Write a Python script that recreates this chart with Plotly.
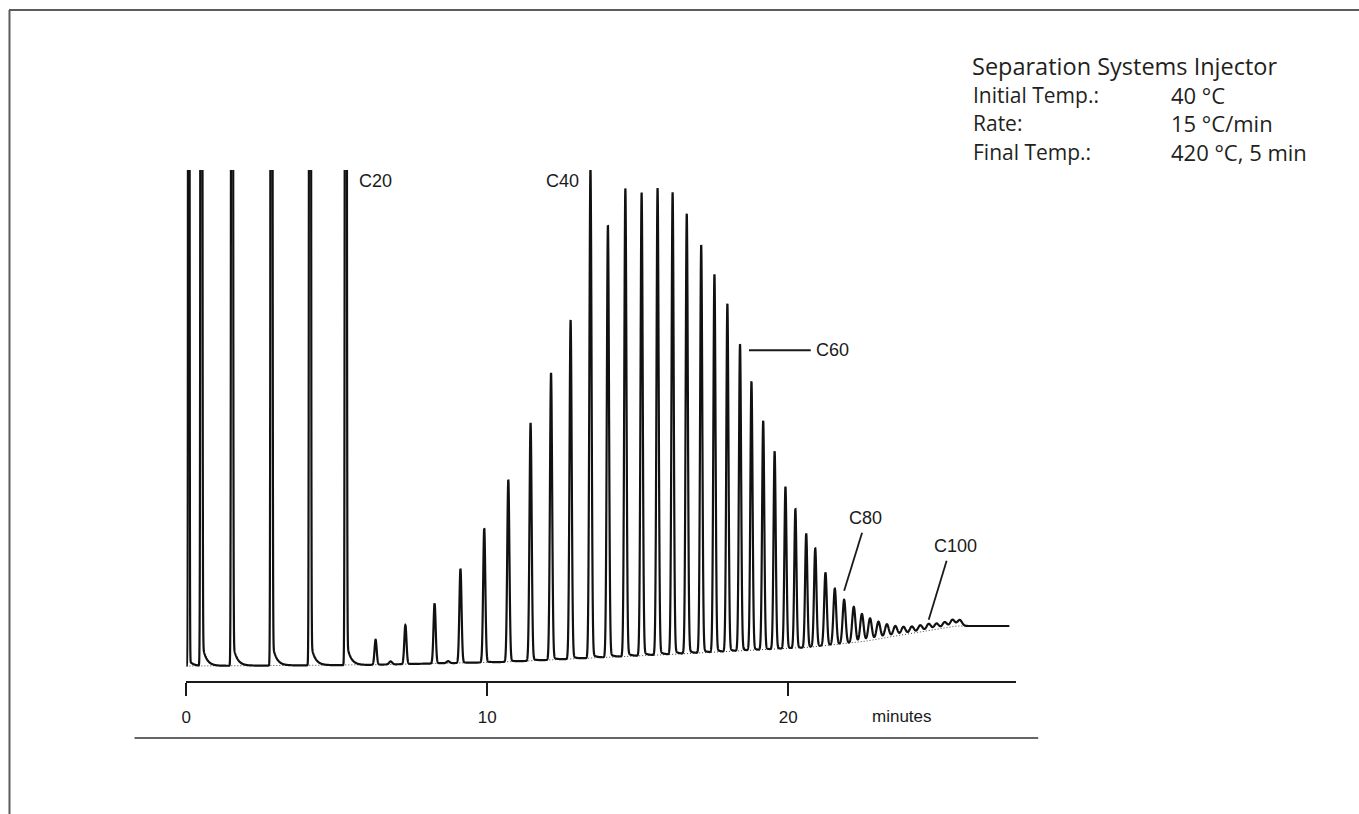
import numpy as np
import plotly.graph_objects as go

# ---------------------------------------------------------------- data ----
# n-alkane homologues of the polyethylene wax standard (even carbon numbers);
# the first entry is the solvent front
carbon_numbers = [None] + list(range(12, 110, 2))

# retention times (min)
retention_min = [
    0.08, 0.50, 1.52, 2.83, 4.11, 5.30,
    6.29, 7.28, 8.25, 9.11, 9.90, 10.70, 11.44, 12.12, 12.77, 13.43,
    14.01, 14.59, 15.13, 15.66, 16.16, 16.63, 17.11, 17.55, 17.98, 18.40,
    18.78, 19.17, 19.55, 19.91, 20.24, 20.60, 20.90, 21.24, 21.55, 21.86,
    22.18, 22.45, 22.72, 23.00, 23.28, 23.56, 23.83, 24.11, 24.39, 24.67,
    24.93, 25.20, 25.46, 25.70,
]

# peak heights above baseline (detector units; the first six run off scale)
peak_height = [
    3000, 3000, 3000, 3000, 3000, 3000,
    25, 39, 60, 94, 134, 182, 238, 287, 339, 490,
    432, 468, 463, 467, 462, 440, 408, 378, 348, 307,
    269, 229, 198, 162, 139, 114, 98, 73, 56, 44,
    36, 28, 22, 17, 13, 10, 8, 7, 7, 7,
    6, 6, 7, 6,
]

# small impurity bumps between the early homologues
minor_retention_min = [6.79, 8.70]
minor_height = [3, 2]

# column-bleed baseline drift during the temperature program
drift_min = [0.0, 5.89, 10.53, 13.84, 17.15, 20.46, 22.45, 23.11, 24.44, 25.60, 27.35]
drift_level = [0, 1, 4, 8.5, 13, 18, 24, 28, 34, 40, 40]

labelled = ["C20", "C40", "C60", "C80", "C100"]

method_title = "Separation Systems Injector"
method_keys = ["Initial Temp.:", "Rate:", "Final Temp.:"]
method_values = ["40 \u00b0C", "15 \u00b0C/min", "420 \u00b0C, 5 min"]

x_ticks = [0, 10, 20]
x_unit = "minutes"

# ------------------------------------------------------------ geometry ----
W, H = 1359, 814
PLOT_L, PLOT_R, PLOT_T, PLOT_B = 182, 1015, 170, 681
X_RANGE = [0, 27.58]
Y_RANGE = [-15, 496]
RUN_END_MIN = drift_min[-1]
PX_PER_MIN = (PLOT_R - PLOT_L) / (X_RANGE[1] - X_RANGE[0])
PX_PER_UNIT = (PLOT_B - PLOT_T) / (Y_RANGE[1] - Y_RANGE[0])


def px_x(p):
    return p / PX_PER_MIN


def px_y(p):
    return p / PX_PER_UNIT


def paper_x(px):
    return px / W


def paper_y(py):
    return 1 - py / H


# ------------------------------------------------------- chromatogram ----
t = np.linspace(X_RANGE[0], RUN_END_MIN, 8000)


def peak_width(t0):
    # peaks broaden once the oven reaches its final isothermal hold
    return 0.036 + 0.040 * np.clip((t0 - 20.5) / 4.0, 0, 1)


def peak(tt, t0, h, s, tail_frac, tau=0.13):
    g = h * np.exp(-0.5 * ((tt - t0) / s) ** 2)
    dt = np.clip(tt - t0, 0, None)
    tail = h * tail_frac * np.exp(-dt / tau) * (1 - np.exp(-(dt / (2 * s)) ** 2))
    return g + tail


baseline = np.interp(t, drift_min, drift_level)
signal = baseline.copy()
for i, (t0, h) in enumerate(zip(retention_min, peak_height)):
    if carbon_numbers[i] is None:
        signal += peak(t, t0, h, 0.016, 0.002)
    elif t0 < 6:
        # overloaded early homologues: very sharp, with a pronounced tail
        signal += peak(t, t0, h, 0.02, 0.009)
    else:
        signal += peak(t, t0, h, peak_width(t0), 0.012)
for t0, h in zip(minor_retention_min, minor_height):
    signal += peak(t, t0, h, 0.05, 0.0)

fig = go.Figure()
fig.add_trace(go.Scatter(
    x=t, y=baseline, mode="lines",
    line=dict(color="#444444", width=1, dash="1px,2px"),
    hoverinfo="skip",
))
fig.add_trace(go.Scatter(
    x=t, y=signal, mode="lines",
    line=dict(color="#111111", width=2.2, simplify=False),
    hoverinfo="skip",
))

# ------------------------------------------------------ peak labels ----
label_font = dict(family="Liberation Sans, Arial, sans-serif", size=18, color="#1a1a1a")
axis_font = dict(family="Liberation Sans, Arial, sans-serif", size=17, color="#1a1a1a")
lead = dict(color="#1a1a1a", width=1.8)


def peak_apex(name):
    idx = carbon_numbers.index(int(name[1:]))
    t0 = retention_min[idx]
    return t0, float(np.interp(t0, t, signal))


annotations = []
shapes = []

# C20 and C40 sit beside the tops of their peaks
t20, _ = peak_apex("C20")
annotations.append(dict(x=t20 + px_x(11), y=Y_RANGE[1] - px_y(11), xref="x", yref="y",
                        text="C20", showarrow=False, xanchor="left", yanchor="middle",
                        font=label_font))
t40, _ = peak_apex("C40")
annotations.append(dict(x=t40 - px_x(10), y=Y_RANGE[1] - px_y(11), xref="x", yref="y",
                        text="C40", showarrow=False, xanchor="right", yanchor="middle",
                        font=label_font))

# C60: horizontal leader line
t60, y60 = peak_apex("C60")
shapes.append(dict(type="line", xref="x", yref="y",
                   x0=t60 + px_x(9), x1=t60 + px_x(71), y0=y60 - px_y(6), y1=y60 - px_y(6),
                   line=lead))
annotations.append(dict(x=t60 + px_x(74), y=y60 - px_y(6), xref="x", yref="y",
                        text="C60", showarrow=False, xanchor="left", yanchor="middle",
                        font=label_font))

# C80 and C100: slanted leader lines
for name, (dx_lo, dy_lo, dx_hi, dy_hi, dx_t, dy_t) in {
    "C80": (0, 9, 18, 67, 21, 82),
    "C100": (0, 4, 18, 63, 27, 78),
}.items():
    tc, yc = peak_apex(name)
    shapes.append(dict(type="line", xref="x", yref="y",
                       x0=tc + px_x(dx_lo), y0=yc + px_y(dy_lo),
                       x1=tc + px_x(dx_hi), y1=yc + px_y(dy_hi),
                       line=lead))
    annotations.append(dict(x=tc + px_x(dx_t), y=yc + px_y(dy_t), xref="x", yref="y",
                            text=name, showarrow=False, xanchor="center", yanchor="middle",
                            font=label_font))

# axis unit
annotations.append(dict(x=paper_x(900), y=paper_y(716), xref="paper", yref="paper",
                        text=x_unit, showarrow=False, xanchor="center", yanchor="middle",
                        font=axis_font))

# method conditions block
info_family = "Open Sans, Noto Sans, sans-serif"
key_font = dict(family=info_family, size=21, color="#231f20")
value_font = dict(family=info_family, size=22, color="#231f20")
annotations.append(dict(x=paper_x(969), y=paper_y(66), xref="paper", yref="paper",
                        text=method_title, showarrow=False, xanchor="left", yanchor="middle",
                        font=dict(family=info_family, size=23.5, color="#231f20")))
for i, (k, v) in enumerate(zip(method_keys, method_values)):
    yy = paper_y(95 + 28.3 * i)
    annotations.append(dict(x=paper_x(970), y=yy, xref="paper", yref="paper", text=k,
                            showarrow=False, xanchor="left", yanchor="middle", font=key_font))
    annotations.append(dict(x=paper_x(1168), y=yy, xref="paper", yref="paper", text=v,
                            showarrow=False, xanchor="left", yanchor="middle", font=value_font))

# page frame and rule under the axis
frame = dict(color="#5c5c5c", width=2)
shapes += [
    dict(type="line", xref="paper", yref="paper", x0=paper_x(4), x1=1.0,
         y0=paper_y(10), y1=paper_y(10), line=frame),
    dict(type="line", xref="paper", yref="paper", x0=paper_x(4.5), x1=paper_x(4.5),
         y0=0.0, y1=paper_y(10), line=frame),
    dict(type="line", xref="paper", yref="paper", x0=paper_x(130), x1=paper_x(1037),
         y0=paper_y(738), y1=paper_y(738), line=dict(color="#333333", width=1.5)),
]

fig.update_layout(
    width=W, height=H,
    margin=dict(l=0, r=0, t=0, b=0),
    paper_bgcolor="white", plot_bgcolor="white",
    showlegend=False,
    annotations=annotations,
    shapes=shapes,
    xaxis=dict(
        domain=[PLOT_L / W, PLOT_R / W],
        range=X_RANGE,
        showgrid=False, zeroline=False,
        showline=True, linecolor="#1a1a1a", linewidth=1.5,
        ticks="outside", ticklen=13, tickwidth=1.5, tickcolor="#1a1a1a",
        tickvals=x_ticks, ticktext=[str(v) for v in x_ticks],
        ticklabelstandoff=7,
        tickfont=axis_font,
    ),
    yaxis=dict(
        domain=[1 - PLOT_B / H, 1 - PLOT_T / H],
        range=Y_RANGE,
        visible=False,
    ),
)

fig.write_html("out.html")
